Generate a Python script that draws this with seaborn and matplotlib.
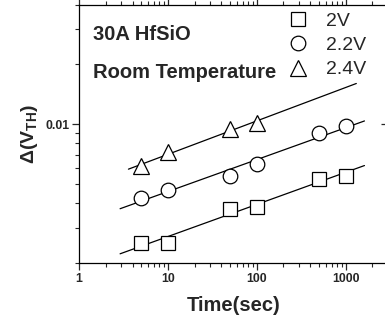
import numpy as np
import matplotlib
matplotlib.use("Agg")
import matplotlib.pyplot as plt
import seaborn as sns
import pandas as pd
from matplotlib.ticker import LogLocator, FixedLocator, NullFormatter, FixedFormatter, NullLocator

# ---- data ----
time_2v = [5, 10, 50, 100, 500, 1000]
dvth_2v = [0.00252, 0.00252, 0.00375, 0.00384, 0.00532, 0.00551]
time_22v = [5, 10, 50, 100, 500, 1000]
dvth_22v = [0.00426, 0.00468, 0.00551, 0.00627, 0.0090, 0.00977]
time_24v = [5, 10, 50, 100]
dvth_24v = [0.00612, 0.00721, 0.0095, 0.0101]
fit_range_2v = [2.9, 1630]
fit_range_22v = [2.9, 1630]
fit_range_24v = [3.6, 1320]
series_labels = ["2V", "2.2V", "2.4V"]
xtick_vals = [1, 10, 100, 1000]
xtick_labels = ["1", "10", "100", "1000"]

sns.set_style("ticks")
plt.rcParams['font.family'] = ['Liberation Sans', 'DejaVu Sans']
plt.rcParams['mathtext.fontset'] = 'custom'
plt.rcParams['mathtext.rm'] = 'Liberation Sans:bold'
plt.rcParams['mathtext.it'] = 'Liberation Sans:bold'
plt.rcParams['mathtext.bf'] = 'Liberation Sans:bold'

fig = plt.figure(figsize=(3.85, 3.23), dpi=100)
ax = fig.add_axes([79/385, 60/323, (388-79)/385, (263-4.5)/323])

rows = []
for lab, t, d in zip(series_labels, [time_2v, time_22v, time_24v], [dvth_2v, dvth_22v, dvth_24v]):
    for a, b in zip(t, d):
        rows.append({"time": a, "dvth": b, "series": lab})
df = pd.DataFrame(rows)

markers = {"2V": "s", "2.2V": "o", "2.4V": "^"}
sizes = {"2V": 10, "2.2V": 10.5, "2.4V": 12}
for lab in series_labels:
    sub = df[df.series == lab]
    ax.plot(sub.time, sub.dvth, linestyle='none', marker=markers[lab], markersize=sizes[lab],
            markerfacecolor='white', markeredgecolor='black', markeredgewidth=0.9,
            label=lab, zorder=3)

for lab, rng in zip(series_labels, [fit_range_2v, fit_range_22v, fit_range_24v]):
    sub = df[df.series == lab]
    p = np.polyfit(np.log10(sub.time), np.log10(sub.dvth), 1)
    xs = np.array(rng, dtype=float)
    ys = 10 ** np.polyval(p, np.log10(xs))
    sns.lineplot(x=xs, y=ys, ax=ax, color='black', linewidth=0.9, zorder=2)

ax.set_xscale('log')
ax.set_yscale('log')
ax.set_xlim(1, 3000)
ax.set_ylim(0.002, 0.04)

ax.xaxis.set_major_locator(FixedLocator(xtick_vals))
ax.xaxis.set_major_formatter(FixedFormatter(xtick_labels))
ax.xaxis.set_minor_locator(LogLocator(base=10, subs=np.arange(2, 10)))
ax.xaxis.set_minor_formatter(NullFormatter())
ax.yaxis.set_major_locator(FixedLocator([0.01]))
ax.yaxis.set_major_formatter(FixedFormatter(["0.01"]))
ax.yaxis.set_minor_locator(LogLocator(base=10, subs=np.arange(2, 10)))
ax.yaxis.set_minor_formatter(NullFormatter())

ax.tick_params(axis='both', which='major', direction='out', length=5, width=0.9,
               labelsize=8.8, pad=2)
ax.tick_params(axis='both', which='minor', direction='out', length=3, width=0.8)
ax.tick_params(top=True, right=False, which='both')
for lbl in ax.get_xticklabels() + ax.get_yticklabels():
    lbl.set_fontweight('bold')
for sp in ax.spines.values():
    sp.set_linewidth(0.9)
    sp.set_color('black')

# right-side inward major tick
ax2 = ax.twinx()
ax2.set_yscale('log')
ax2.set_ylim(ax.get_ylim())
ax2.yaxis.set_major_locator(FixedLocator([0.01]))
ax2.yaxis.set_minor_locator(NullLocator())
ax2.yaxis.set_major_formatter(NullFormatter())
ax2.tick_params(axis='y', direction='in', length=5, width=0.9)
for sp in ax2.spines.values():
    sp.set_visible(False)

ax.set_xlabel("Time(sec)", fontsize=14.5, fontweight='bold', labelpad=8)
ax.set_ylabel(r"$\Delta$(V$_{TH}$)", fontsize=14, fontweight='bold', labelpad=4)

fig.text(93/385, 1 - 35/323, "30A HfSiO", fontsize=14.5, fontweight='bold',
         va='center', ha='left')
fig.text(93/385, 1 - 72/323, "Room Temperature", fontsize=14.5, fontweight='bold',
         va='center', ha='left')

leg = ax.legend(loc='upper left', bbox_to_anchor=(288/385, 1 - 12/323),
                bbox_transform=fig.transFigure, frameon=False, fontsize=14,
                handletextpad=0.95, labelspacing=0.35, handlelength=1.0,
                borderaxespad=0, borderpad=0)

fig.savefig("out.png", dpi=100)
